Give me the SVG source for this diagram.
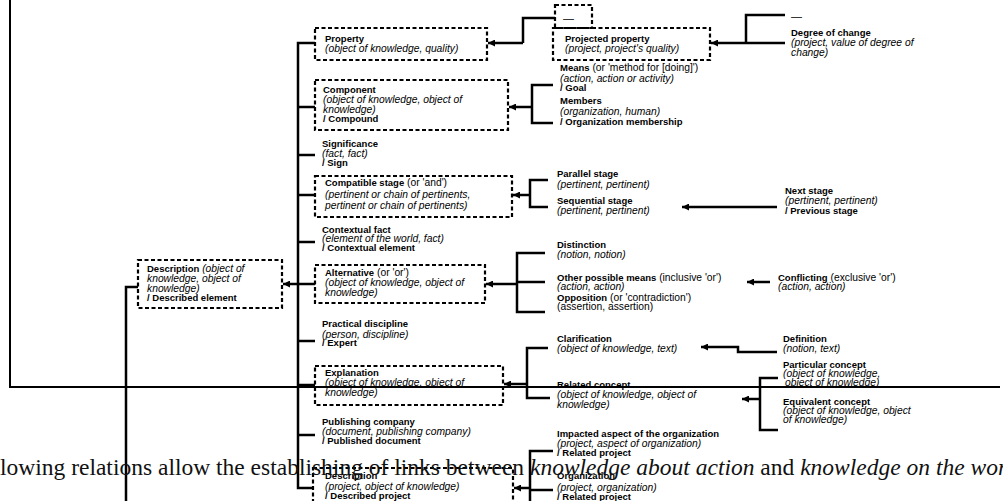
<svg xmlns="http://www.w3.org/2000/svg" width="1003" height="501" viewBox="0 0 1003 501">
<defs>
<marker id="arr" markerUnits="userSpaceOnUse" markerWidth="8" markerHeight="7" refX="7" refY="3.5" orient="auto"><path d="M0,0 L7,3.5 L0,7 z" fill="#000"/></marker>
<style>
.t{font-family:"Liberation Sans",Arial,sans-serif;fill:#000}
.b{font-weight:bold;font-size:9.5px}
.i{font-style:italic;font-size:10.3px}
.n{font-size:10.3px}
.box{fill:none;stroke:#000;stroke-width:2.2;stroke-dasharray:4 2.5}
.c{fill:none;stroke:#000;stroke-width:2.5}
.a{fill:none;stroke:#000;stroke-width:2.5;marker-end:url(#arr)}
.s{font-family:"Liberation Serif","Times New Roman",serif;font-size:23.5px;fill:#111}
.si{font-style:italic}
</style>
</defs>
<rect width="1003" height="501" fill="#fff"/>

<g id="frame"><path d="M10,0 V387 H1000" fill="none" stroke="#000" stroke-width="2"/></g>

<g id="connectors">
<path class="c" d="M315,43 H298 V488 H313"/>
<path class="c" d="M298,107 H315 M298,155 H315 M298,195 H315 M298,242 H315 M298,284 H315 M298,341 H315 M298,385 H315 M298,435 H315"/>
<path class="a" d="M298,284 H283"/>
<path class="c" d="M138,287 H126 V501"/>
<path class="a" d="M523,43 H488"/>
<path class="c" d="M555,18 H523 V43"/>
<path class="a" d="M785,43 H711"/>
<path class="c" d="M785,15 H746 V43"/>
<path class="a" d="M532,107 H509"/>
<path class="c" d="M553,85 H532 V123 H553"/>
<path class="a" d="M530,195 H513"/>
<path class="c" d="M548,180 H530 V207 H548"/>
<path class="a" d="M777,207 H682"/>
<path class="a" d="M517,284 H486"/>
<path class="c" d="M545,253 H517 V312 H545 M517,282 H545"/>
<path class="a" d="M770,282 H747"/>
<path class="a" d="M527,384 H504"/>
<path class="c" d="M548,348 H527 V398 H550"/>
<path class="a" d="M777,352 H738 V347 H701"/>
<path class="c" d="M778,378 H760 V430 H778"/>
<path class="a" d="M760,399 H742"/>
<path class="a" d="M530,488 H514"/>
<path class="c" d="M553,451 H530 V501 M530,490 H553"/>
</g>

<g id="n-description">
<rect class="box" x="138" y="260" width="144" height="48"/>
<text class="t" x="147" y="272"><tspan class="b">Description</tspan><tspan class="i"> (object of</tspan></text>
<text class="t i" x="147" y="282">knowledge, object of</text>
<text class="t i" x="147" y="292">knowledge)</text>
<text class="t b" x="147" y="301">/ Described element</text>
</g>

<g id="n-property">
<rect class="box" x="315" y="28" width="172" height="32"/>
<text class="t b" x="325" y="42">Property</text>
<text class="t i" x="325" y="52">(object of knowledge, quality)</text>
</g>

<g id="n-dash1">
<rect class="box" x="555" y="5" width="37" height="23"/>
<text class="t" x="563" y="22" font-size="11">—</text>
</g>

<g id="n-projected">
<rect class="box" x="553" y="28" width="157" height="32"/>
<text class="t b" x="565" y="42">Projected property</text>
<text class="t i" x="565" y="52">(project, project's quality)</text>
</g>

<g id="n-dash2"><text class="t" x="791" y="20" font-size="11">—</text></g>

<g id="n-degree">
<text class="t b" x="791" y="36">Degree of change</text>
<text class="t i" x="791" y="46">(project, value of degree of</text>
<text class="t i" x="791" y="56">change)</text>
</g>

<g id="n-component">
<rect class="box" x="315" y="80" width="193" height="50"/>
<text class="t b" x="323" y="93">Component</text>
<text class="t i" x="323" y="103">(object of knowledge, object of</text>
<text class="t i" x="323" y="113">knowledge)</text>
<text class="t b" x="323" y="122">/ Compound</text>
</g>

<g id="n-means">
<text class="t" x="560" y="71"><tspan class="b">Means</tspan><tspan class="n"> (or 'method for [doing]')</tspan></text>
<text class="t i" x="560" y="82">(action, action or activity)</text>
<text class="t b" x="560" y="91">/ Goal</text>
</g>

<g id="n-members">
<text class="t b" x="560" y="104">Members</text>
<text class="t i" x="560" y="115">(organization, human)</text>
<text class="t b" x="560" y="125">/ Organization membership</text>
</g>

<g id="n-significance">
<text class="t b" x="322" y="147">Significance</text>
<text class="t i" x="322" y="157">(fact, fact)</text>
<text class="t b" x="322" y="166">/ Sign</text>
</g>

<g id="n-compatible">
<rect class="box" x="315" y="176" width="197" height="41"/>
<text class="t" x="325" y="186"><tspan class="b">Compatible stage</tspan><tspan class="n"> (or 'and')</tspan></text>
<text class="t i" x="325" y="198">(pertinent or chain of pertinents,</text>
<text class="t i" x="325" y="209">pertinent or chain of pertinents)</text>
</g>

<g id="n-parallel">
<text class="t b" x="557" y="177">Parallel stage</text>
<text class="t i" x="557" y="188">(pertinent, pertinent)</text>
</g>

<g id="n-sequential">
<text class="t b" x="557" y="204">Sequential stage</text>
<text class="t i" x="557" y="214">(pertinent, pertinent)</text>
</g>

<g id="n-next">
<text class="t b" x="785" y="194">Next stage</text>
<text class="t i" x="785" y="204">(pertinent, pertinent)</text>
<text class="t b" x="785" y="214">/ Previous stage</text>
</g>

<g id="n-contextual">
<text class="t b" x="322" y="233">Contextual fact</text>
<text class="t i" x="322" y="242">(element of the world, fact)</text>
<text class="t b" x="322" y="251">/ Contextual element</text>
</g>

<g id="n-alternative">
<rect class="box" x="315" y="265" width="170" height="38"/>
<text class="t" x="325" y="276"><tspan class="b">Alternative</tspan><tspan class="n"> (or 'or')</tspan></text>
<text class="t i" x="325" y="286">(object of knowledge, object of</text>
<text class="t i" x="325" y="296">knowledge)</text>
</g>

<g id="n-distinction">
<text class="t b" x="557" y="248">Distinction</text>
<text class="t i" x="557" y="258">(notion, notion)</text>
</g>

<g id="n-otherpossible">
<text class="t" x="557" y="281"><tspan class="b">Other possible means</tspan><tspan class="n"> (inclusive 'or')</tspan></text>
<text class="t i" x="557" y="290">(action, action)</text>
</g>

<g id="n-opposition">
<text class="t" x="557" y="301"><tspan class="b">Opposition</tspan><tspan class="n"> (or 'contradiction')</tspan></text>
<text class="t n" x="557" y="310">(assertion, assertion)</text>
</g>

<g id="n-conflicting">
<text class="t" x="778" y="281"><tspan class="b">Conflicting</tspan><tspan class="n"> (exclusive 'or')</tspan></text>
<text class="t i" x="778" y="290">(action, action)</text>
</g>

<g id="n-practical">
<text class="t b" x="322" y="327">Practical discipline</text>
<text class="t i" x="322" y="338">(person, discipline)</text>
<text class="t b" x="322" y="346">/ Expert</text>
</g>

<g id="n-explanation">
<rect class="box" x="315" y="366" width="188" height="39"/>
<text class="t b" x="325" y="376">Explanation</text>
<text class="t i" x="325" y="386">(object of knowledge, object of</text>
<text class="t i" x="325" y="396">knowledge)</text>
</g>

<g id="n-clarification">
<text class="t b" x="557" y="342">Clarification</text>
<text class="t i" x="557" y="352">(object of knowledge, text)</text>
</g>

<g id="n-definition">
<text class="t b" x="783" y="342">Definition</text>
<text class="t i" x="783" y="352">(notion, text)</text>
</g>

<g id="n-related">
<text class="t b" x="557" y="388">Related concept</text>
<text class="t i" x="557" y="398">(object of knowledge, object of</text>
<text class="t i" x="557" y="408">knowledge)</text>
</g>

<g id="n-particular">
<text class="t b" x="783" y="368">Particular concept</text>
<text class="t i" x="783" y="377">(object of knowledge,</text>
<text class="t i" x="785" y="386">object of knowledge)</text>
</g>

<g id="n-equivalent">
<text class="t b" x="783" y="405">Equivalent concept</text>
<text class="t i" x="783" y="414">(object of knowledge, object</text>
<text class="t i" x="783" y="423">of knowledge)</text>
</g>

<g id="n-publishing">
<text class="t b" x="322" y="425">Publishing company</text>
<text class="t i" x="322" y="435">(document, publishing company)</text>
<text class="t b" x="322" y="444">/ Published document</text>
</g>

<g id="n-description-project">
<rect class="box" x="313" y="468" width="200" height="45"/>
<text class="t b" x="325" y="479">Description</text>
<text class="t i" x="325" y="490">(project, object of knowledge)</text>
<text class="t b" x="325" y="499">/ Described project</text>
</g>

<g id="n-impacted">
<text class="t b" x="557" y="437">Impacted aspect of the organization</text>
<text class="t i" x="557" y="447">(project, aspect of organization)</text>
<text class="t b" x="557" y="456">/ Related project</text>
</g>

<g id="n-organization">
<text class="t b" x="557" y="479">Organization</text>
<text class="t i" x="557" y="491">(project, organization)</text>
<text class="t b" x="557" y="500">/ Related project</text>
</g>

<g id="sentence">
<text class="s" x="0" y="475">lowing relations allow the establishing of links between <tspan class="si">knowledge about action</tspan> and <tspan class="si">knowledge on the wor</tspan></text>
</g>
</svg>
